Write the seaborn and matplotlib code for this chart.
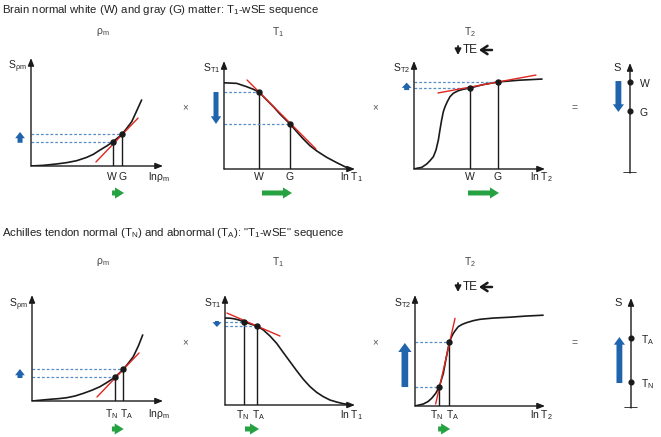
import matplotlib
matplotlib.use('Agg')
import matplotlib.pyplot as plt
import seaborn as sns

sns.set_theme(style='white')
plt.rcParams['font.family'] = ['Liberation Sans', 'DejaVu Sans']
plt.rcParams['mathtext.fontset'] = 'custom'
plt.rcParams['mathtext.rm'] = 'Liberation Sans'
plt.rcParams['mathtext.it'] = 'Liberation Sans:italic'
plt.rcParams['mathtext.default'] = 'regular'

W, H = 661, 437
BLUE = '#1f64ad'
GREEN = '#27a243'
RED = '#e0261f'
DASH = '#5a8cc8'
TXT = '#222222'

# ---- text ----
row_titles = ['Brain normal white (W) and gray (G) matter: T$_1$-wSE sequence',
              'Achilles tendon normal (T$_N$) and abnormal (T$_A$): "T$_1$-wSE" sequence']
col_titles = ['ρ$_m$', 'T$_1$', 'T$_2$']
x_labels = ['lnρ$_m$', 'ln T$_1$', 'ln T$_2$']
y_labels = ['S$_{ρm}$', 'S$_{T1}$', 'S$_{T2}$']
top_marks = ['W', 'G']
bot_marks = ['T$_N$', 'T$_A$']

# ---- curves (unit coords, origin at axis corner, 1 = arrow tip) ----
# top row
top_rho_u = [0, 0.093, 0.195, 0.27, 0.346, 0.422, 0.472, 0.523, 0.573, 0.621, 0.689, 0.725, 0.763, 0.80, 0.838]
top_rho_v = [0, 0.006, 0.019, 0.031, 0.049, 0.08, 0.108, 0.148, 0.185, 0.225, 0.293, 0.349, 0.41, 0.509, 0.611]
top_rho_pts_u = [0.621, 0.689]
top_rho_pts_v = [0.225, 0.293]
top_rho_tan_u = [0.492, 0.811]
top_rho_tan_v = [0.037, 0.444]

top_t1_u = [0, 0.097, 0.173, 0.224, 0.267, 0.326, 0.377, 0.427, 0.504, 0.555, 0.605, 0.656, 0.708, 0.784, 0.86, 0.949]
top_t1_v = [0.798, 0.793, 0.762, 0.738, 0.713, 0.639, 0.577, 0.509, 0.417, 0.346, 0.278, 0.216, 0.167, 0.108, 0.059, 0.006]
top_t1_pts_u = [0.267, 0.504]
top_t1_pts_v = [0.713, 0.417]
top_t1_tan_u = [0.176, 0.702]
top_t1_tan_v = [0.824, 0.185]

top_t2_u = [0, 0.02, 0.059, 0.097, 0.122, 0.148, 0.168, 0.186, 0.198, 0.211, 0.224, 0.237, 0.254,
            0.275, 0.30, 0.338, 0.376, 0.427, 0.53, 0.641, 0.80, 0.977]
top_t2_v = [0, 0.006, 0.015, 0.046, 0.077, 0.114, 0.176, 0.269, 0.361, 0.454, 0.531, 0.577, 0.623,
            0.67, 0.701, 0.725, 0.738, 0.75, 0.782, 0.806, 0.822, 0.833]
top_t2_pts_u = [0.427, 0.641]
top_t2_pts_v = [0.75, 0.806]
top_t2_tan_u = [0.183, 0.931]
top_t2_tan_v = [0.704, 0.870]

# bottom row
bot_rho_u = [0, 0.137, 0.201, 0.265, 0.328, 0.392, 0.456, 0.519, 0.57, 0.634, 0.697, 0.735, 0.773, 0.812, 0.845]
bot_rho_v = [0, 0.016, 0.022, 0.031, 0.047, 0.072, 0.101, 0.135, 0.173, 0.224, 0.299, 0.356, 0.418, 0.519, 0.623]
bot_rho_pts_u = [0.634, 0.697]
bot_rho_pts_v = [0.224, 0.299]
bot_rho_tan_u = [0.496, 0.817]
bot_rho_tan_v = [0.038, 0.453]

bot_t1_u = [0, 0.04, 0.077, 0.11, 0.146, 0.246, 0.295, 0.346, 0.397, 0.449, 0.5, 0.551, 0.603,
            0.654, 0.705, 0.756, 0.808, 0.859, 0.91, 0.949]
bot_t1_v = [0.791, 0.789, 0.782, 0.772, 0.755, 0.718, 0.682, 0.627, 0.561, 0.476, 0.394, 0.312, 0.233,
            0.167, 0.115, 0.076, 0.045, 0.027, 0.012, 0.006]
bot_t1_pts_u = [0.146, 0.246]
bot_t1_pts_v = [0.755, 0.718]
bot_t1_tan_u = [0.015, 0.423]
bot_t1_tan_v = [0.836, 0.627]

bot_t2_u = [0, 0.064, 0.10, 0.128, 0.16, 0.187, 0.218, 0.241, 0.264, 0.282, 0.295, 0.313, 0.333,
            0.364, 0.397, 0.449, 0.5, 0.6, 0.731, 0.85, 0.985]
bot_t2_v = [0, 0.018, 0.04, 0.069, 0.115, 0.174, 0.294, 0.44, 0.574, 0.625, 0.655, 0.685, 0.715,
            0.736, 0.751, 0.769, 0.781, 0.792, 0.80, 0.81, 0.818]
bot_t2_pts_u = [0.187, 0.264]
bot_t2_pts_v = [0.174, 0.574]
bot_t2_tan_u = [0.159, 0.308]
bot_t2_tan_v = [0.018, 0.79]

# resulting signal scale
top_s_v = [0.827, 0.564]
bot_s_v = [0.236, 0.636]

fig = plt.figure(figsize=(W / 100, H / 100), dpi=100)


def box(x0, y0, x1, y1):
    ax = fig.add_axes([x0 / W, 1 - y0 / H, (x1 - x0) / W, (y0 - y1) / H])
    ax.set_xlim(0, 1)
    ax.set_ylim(0, 1)
    ax.axis('off')
    ax.px = x1 - x0
    return ax


def ftext(x, y, s, **kw):
    kw.setdefault('color', TXT)
    fig.text(x / W, 1 - y / H, s, **kw)


def arrow(ax, p0, p1, color, tail, hw, hl):
    ax.annotate('', xy=p1, xytext=p0, annotation_clip=False,
                arrowprops=dict(arrowstyle=f'simple,head_length={hl},head_width={hw},tail_width={tail}',
                                color=color, lw=0, shrinkA=0, shrinkB=0, mutation_scale=1))


def axis_arrow(ax, p0, p1):
    ax.annotate('', xy=p1, xytext=p0, annotation_clip=False,
                arrowprops=dict(arrowstyle='-|>,head_length=4.5,head_width=1.8', color='k',
                                lw=1.0, shrinkA=0, shrinkB=0, mutation_scale=1))


def curve_panel(ax, cu, cv, pu, pv, tu, tv, marks, mark_v, xlab, ylab, ylab_v, blue, green):
    axis_arrow(ax, (0, 0), (1, 0))
    axis_arrow(ax, (0, 0), (0, 1))
    sns.lineplot(x=cu, y=cv, ax=ax, color='k', lw=1.2, sort=False, estimator=None)
    for u, v in zip(pu, pv):
        ax.plot([0, u], [v, v], color=DASH, lw=0.9, ls=(0, (2.2, 1.6)))
        ax.plot([u, u], [0, v], color='k', lw=1.0)
    ax.plot(tu, tv, color=RED, lw=1.0, zorder=4)
    ax.plot(pu, pv, 'o', color='k', ms=3.6, zorder=5)
    gap = (pu[1] - pu[0]) * ax.px
    if gap < 20:
        mid = (pu[0] + pu[1]) / 2
        d = 1.2 / ax.px
        ax.text(mid - d, mark_v, marks[0], ha='right', va='center', fontsize=7.5, color=TXT)
        ax.text(mid + d, mark_v, marks[1], ha='left', va='center', fontsize=7.5, color=TXT)
    else:
        for u, m in zip(pu, marks):
            ax.text(u, mark_v, m, ha='center', va='center', fontsize=7.5, color=TXT)
    ax.text(0.885, mark_v, xlab, ha='left', va='center', fontsize=7.5, color=TXT)
    ax.text(-0.03, ylab_v, ylab, ha='right', va='center', fontsize=7.5, color=TXT)
    bu, bv0, bv1, bt, bhw, bhl = blue
    arrow(ax, (bu, bv0), (bu, bv1), BLUE, bt, bhw, bhl)
    gu0, gu1, gv = green
    arrow(ax, (gu0, gv), (gu1, gv), GREEN, 3.6, 8, 6.5)


def s_panel(ax, sv, marks, blue):
    axis_arrow(ax, (0.5, 0), (0.5, 1))
    ax.plot([0.36, 0.64], [0, 0], color='k', lw=1.2)
    ax.plot([0.5] * len(sv), sv, 'o', color='k', ms=3.4, zorder=5)
    for v, m in zip(sv, marks):
        ax.text(0.74, v - 0.02, m, ha='left', va='center', fontsize=7.5, color=TXT)
    ax.text(0.19, 0.955, 'S', ha='center', va='center', fontsize=8, color=TXT)
    bv0, bv1 = blue
    arrow(ax, (0.21, bv0), (0.21, bv1), BLUE, 4.2, 8, 5.5)


def te_note(ax, ty):
    # "↓TE←" above the T2 panel, in figure pixels
    ax.annotate('', xy=(458, H - ty - 5), xytext=(458, H - ty + 4), xycoords='figure pixels',
                textcoords='figure pixels', annotation_clip=False,
                arrowprops=dict(arrowstyle='-|>,head_length=3.5,head_width=1.8', color='k',
                                lw=1.3, shrinkA=0, shrinkB=0, mutation_scale=1))
    ftext(470, ty, 'TE', ha='center', va='center', fontsize=8.5)
    ax.annotate('', xy=(479, H - ty), xytext=(492, H - ty), xycoords='figure pixels',
                textcoords='figure pixels', annotation_clip=False,
                arrowprops=dict(arrowstyle='->,head_length=4.5,head_width=3', color='k',
                                lw=1.8, shrinkA=0, shrinkB=0, mutation_scale=1))


# row titles
ftext(2, 10, row_titles[0], ha='left', va='center', fontsize=8.2)
ftext(2, 233, row_titles[1], ha='left', va='center', fontsize=8.2)

for yy in (32, 262):
    for xx, t in zip((103, 278, 470), col_titles):
        ftext(xx, yy, t, ha='center', va='center', fontsize=7.5, color='#444444')

for yy in (107, 342):
    ftext(185, yy, '×', ha='center', va='center', fontsize=7, color='#555555')
    ftext(375, yy, '×', ha='center', va='center', fontsize=7, color='#555555')
    ftext(574, yy + 1, '=', ha='center', va='center', fontsize=7.5, color='#555555')

# top row
ax = box(31, 166, 163, 58)
curve_panel(ax, top_rho_u, top_rho_v, top_rho_pts_u, top_rho_pts_v, top_rho_tan_u, top_rho_tan_v,
            top_marks, -0.102, x_labels[0], y_labels[0], 0.917,
            (-0.083, 0.215, 0.315, 3.6, 7, 4.5), (0.614, 0.705, -0.25))
ax = box(224, 169, 355, 61)
curve_panel(ax, top_t1_u, top_t1_v, top_t1_pts_u, top_t1_pts_v, top_t1_tan_u, top_t1_tan_v,
            top_marks, -0.074, x_labels[1], y_labels[1], 0.93,
            (-0.061, 0.713, 0.417, 3.6, 7.5, 5.5), (0.29, 0.519, -0.222))
ax = box(414, 169, 545, 61)
curve_panel(ax, top_t2_u, top_t2_v, top_t2_pts_u, top_t2_pts_v, top_t2_tan_u, top_t2_tan_v,
            top_marks, -0.074, x_labels[2], y_labels[2], 0.93,
            (-0.056, 0.731, 0.80, 3.6, 7, 3.8), (0.412, 0.649, -0.222))
te_note(ax, 50)
ax = box(610, 173, 650, 63)
s_panel(ax, top_s_v, top_marks, (0.836, 0.555))

# bottom row
ax = box(32, 401, 163, 295)
curve_panel(ax, bot_rho_u, bot_rho_v, bot_rho_pts_u, bot_rho_pts_v, bot_rho_tan_u, bot_rho_tan_v,
            bot_marks, -0.123, x_labels[0], y_labels[0], 0.906,
            (-0.092, 0.217, 0.302, 3.6, 7, 4.5), (0.61, 0.70, -0.264))
ax = box(225, 405, 355, 295)
curve_panel(ax, bot_t1_u, bot_t1_v, bot_t1_pts_u, bot_t1_pts_v, bot_t1_tan_u, bot_t1_tan_v,
            bot_marks, -0.091, x_labels[1], y_labels[1], 0.927,
            (-0.062, 0.764, 0.709, 2.8, 6.5, 3.5), (0.154, 0.262, -0.218))
ax = box(415, 406, 545, 295)
curve_panel(ax, bot_t2_u, bot_t2_v, bot_t2_pts_u, bot_t2_pts_v, bot_t2_tan_u, bot_t2_tan_v,
            bot_marks, -0.081, x_labels[2], y_labels[2], 0.928,
            (-0.078, 0.171, 0.568, 4.8, 9.5, 6.5), (0.178, 0.27, -0.207))
te_note(ax, 287)
ax = box(611, 408, 651, 298)
s_panel(ax, bot_s_v, bot_marks, (0.227, 0.645))

fig.savefig('out.png', dpi=100)
